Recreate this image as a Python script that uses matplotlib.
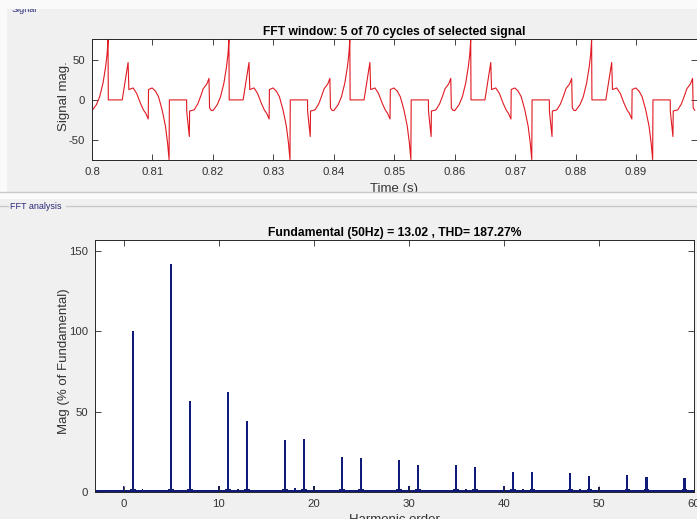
import numpy as np
import matplotlib
matplotlib.use("Agg")
import matplotlib.pyplot as plt
from matplotlib.patches import Rectangle
from matplotlib.lines import Line2D

plt.rcParams['font.family'] = ['Liberation Sans', 'DejaVu Sans']
plt.rcParams['axes.unicode_minus'] = False

cycle_ms = [0.0, 0.72, 1.27, 1.82, 2.26, 2.5, 2.65, 2.7, 5.0, 5.97, 6.1, 6.8, 7.4,
            8.0, 8.5, 8.9, 9.3, 9.35, 9.95, 10.5, 11.0, 11.6, 12.15, 12.5, 12.75,
            12.8, 15.65, 15.67, 16.1, 16.15, 16.9, 17.5, 18.0, 18.4, 18.6, 19.0,
            19.35, 19.45, 19.7]
cycle_val = [-13.5, -6, 4, 21, 42, 58, 76, 0, 0, 47, 13, 15, 8,
             -4, -12.5, -17, -24, 13, 15, 11, 4, -12.5, -33, -54, -75,
             0, 0, -14.5, -46, -14, -12.5, -5, 5, 14, 16, 20,
             27, -10, -13]
n_cycles = 5
t_start = 0.8
period = 0.02
time_ticks = [0.8, 0.81, 0.82, 0.83, 0.84, 0.85, 0.86, 0.87, 0.88, 0.89]
sig_ticks = [-50, 0, 50]

# FFT magnitudes (% of fundamental)
harmonics = [1, 5, 7, 11, 13, 17, 19, 23, 25, 29, 31, 35, 37, 41, 43, 47, 49, 53, 55, 59]
mags = [100, 142.3, 56.7, 62.5, 44.4, 32.3, 33, 21.5, 21.3, 20.2, 16.7, 16.7,
        15.6, 12.5, 12.5, 11.7, 9.8, 10.4, 9.4, 9.0]
side_lobe = 1.6
minor_orders = [0, 2, 4, 6, 8, 10, 12, 14, 16, 18, 20, 22, 24, 26, 28, 30, 32, 34,
                36, 38, 40, 42, 44, 46, 48, 50, 52, 54, 56, 58]
minor_mags = [3.6, 2.0, 1.0, 1.5, 1.0, 3.6, 2.0, 1.0, 1.2, 2.3, 3.5, 1.0, 1.5, 1.0,
              1.2, 3.5, 1.0, 1.0, 2.0, 1.0, 3.5, 1.8, 1.0, 1.0, 2.0, 3.1, 1.0, 1.5, 1.0, 1.0]
noise_floor = 1.0
order_ticks = [0, 10, 20, 30, 40, 50, 60]
mag_ticks = [0, 50, 100, 150]

W, H = 697, 519
fig = plt.figure(figsize=(W / 100, H / 100), dpi=100, facecolor='#f0f0f0')


def box(left, top, right, bottom):
    return [left / W, 1 - bottom / H, (right - left) / W, (bottom - top) / H]


def fig_rect(left, top, right, bottom, color, z):
    fig.add_artist(Rectangle((left / W, 1 - bottom / H), (right - left) / W,
                             (bottom - top) / H, transform=fig.transFigure,
                             facecolor=color, edgecolor='none', zorder=z))


def style(ax):
    ax.tick_params(direction='in', top=True, right=True, length=4, width=0.6,
                   color='#262626', labelcolor='#333333', labelsize=8.2, pad=5)
    for s in ax.spines.values():
        s.set_linewidth(0.7)
        s.set_color('#262626')


# --- signal panel ---
ax1 = fig.add_axes(box(92, 39, 696.5, 160))
ax1.set_zorder(1)
t = np.concatenate([t_start + k * period + np.array(cycle_ms) / 1000 for k in range(n_cycles)])
v = np.tile(cycle_val, n_cycles)
ax1.plot(t, v, color='#e01a22', lw=0.8)
ax1.set_xlim(0.8, 0.9)
ax1.set_ylim(-75.5, 76.5)
ax1.set_xticks(time_ticks)
ax1.set_xticklabels([f'{x:g}' for x in time_ticks])
ax1.set_yticks(sig_ticks)
style(ax1)
ax1.set_title('FFT window: 5 of 70 cycles of selected signal', fontsize=8.7,
              fontweight='bold', pad=3)
ax1.set_xlabel('Time (s)', fontsize=9.5, color='#333333')
ax1.xaxis.set_label_coords(0.5, -0.19)
ax1.set_ylabel('Signal mag.', fontsize=9.5, color='#333333')
ax1.yaxis.set_label_coords(-0.036, 0.53)

fig_rect(0, 0, 7, 192, '#fafafa', 2)
fig_rect(0, 0, W, 9, '#fafafa', 3)
fig.text(12 / W, 1 - 9 / H, 'Signal', fontsize=6.5, color='#2a2a7a', va='center', zorder=2)

# panel separators
fig_rect(0, 192, W, 199, '#fbfbfb', 2)
fig_rect(0, 199, W, H, '#f0f0f0', 2)
fig.add_artist(Line2D([0, 1], [1 - 192 / H] * 2, transform=fig.transFigure,
                      color='#c8c8c8', lw=1, zorder=3))
fig.add_artist(Line2D([66 / W, 1], [1 - 206 / H] * 2, transform=fig.transFigure,
                      color='#c8c8c8', lw=1, zorder=3))
fig.add_artist(Line2D([0, 8 / W], [1 - 206 / H] * 2, transform=fig.transFigure,
                      color='#c8c8c8', lw=1, zorder=3))
fig.text(10 / W, 1 - 206 / H, 'FFT analysis', fontsize=6.5, color='#2a2a7a',
         va='center', zorder=4)

# --- FFT panel ---
ax2 = fig.add_axes(box(95, 240, 694, 492))
ax2.set_zorder(5)
bar_color = '#101a78'
ax2.axhspan(0, noise_floor, color=bar_color, lw=0)
ax2.bar(minor_orders, minor_mags, width=0.2, color=bar_color, lw=0)
ax2.bar(np.array(harmonics) - 0.2, side_lobe, width=0.2, color=bar_color, lw=0)
ax2.bar(np.array(harmonics) + 0.2, side_lobe, width=0.2, color=bar_color, lw=0)
ax2.bar(harmonics, mags, width=0.22, color=bar_color, lw=0)
ax2.set_xlim(-3, 60)
ax2.set_ylim(0, 157)
ax2.set_xticks(order_ticks)
ax2.set_yticks(mag_ticks)
style(ax2)
ax2.set_title('Fundamental (50Hz) = 13.02 , THD= 187.27%', fontsize=8.7,
              fontweight='bold', pad=3)
ax2.set_xlabel('Harmonic order', fontsize=9.5, color='#333333')
ax2.xaxis.set_label_coords(0.5, -0.088)
ax2.set_ylabel('Mag (% of Fundamental)', fontsize=9.5, color='#333333')
ax2.yaxis.set_label_coords(-0.042, 0.52)

fig.savefig('out.png', dpi=100, facecolor=fig.get_facecolor())
